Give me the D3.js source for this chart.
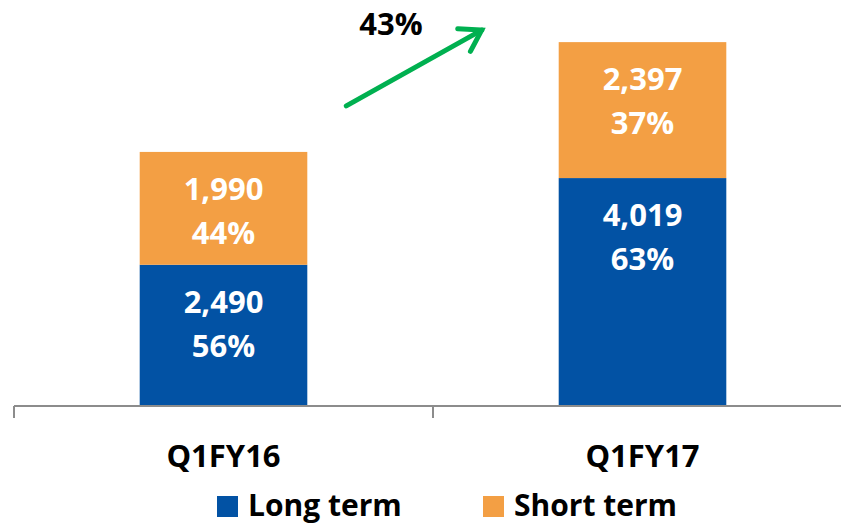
<!DOCTYPE html>
<html>
<head>
<meta charset="utf-8">
<script src="https://cdn.jsdelivr.net/npm/d3@7"></script>
<style>
  html, body { margin: 0; padding: 0; background: #ffffff; }
  svg { display: block; font-family: "Open Sans", "Liberation Sans", sans-serif; font-weight: 700; }
</style>
</head>
<body>
<svg id="chart" width="841" height="525"></svg>
<script>
// ---- data ----
const categories = ["Q1FY16", "Q1FY17"];
const seriesNames = ["Long term", "Short term"];
const longTerm = [2490, 4019];
const shortTerm = [1990, 2397];

// ---- styles ----
const colors = { "Long term": "#0252a4", "Short term": "#f39f44" };
const axisColor = "#8c8c8c";
const arrowColor = "#00b050";

const svg = d3.select("#chart");
const W = 841, H = 525;

const x = d3.scaleBand()
  .domain(categories)
  .range([14, 852])
  .paddingInner(0.6)
  .paddingOuter(0.3);

const y = d3.scaleLinear()
  .domain([0, 7000])
  .range([406, 9]);

// build stacked table
const table = categories.map((c, i) => ({ cat: c, "Long term": longTerm[i], "Short term": shortTerm[i] }));
const stack = d3.stack().keys(seriesNames)(table);
const totals = categories.map((c, i) => longTerm[i] + shortTerm[i]);

// bars
const layers = svg.append("g").selectAll("g")
  .data(stack)
  .join("g")
  .attr("fill", d => colors[d.key]);

layers.selectAll("rect")
  .data(d => d.map(s => ({ s, key: d.key })))
  .join("rect")
  .attr("x", d => x(d.s.data.cat))
  .attr("width", x.bandwidth())
  .attr("y", d => y(d.s[1]))
  .attr("height", d => y(d.s[0]) - y(d.s[1]));

// value labels
const fmt = d3.format(",");
stack.forEach(layer => {
  layer.forEach((s, i) => {
    const v = s[1] - s[0];
    const cx = x(s.data.cat) + x.bandwidth() / 2;
    const top = y(s[1]);
    const pct = Math.round(v / totals[i] * 100) + "%";
    const t = svg.append("text")
      .attr("text-anchor", "middle")
      .attr("fill", "#ffffff")
      .attr("font-size", 31);
    t.append("tspan").attr("x", cx).attr("y", top + 48).text(fmt(v));
    t.append("tspan").attr("x", cx).attr("y", top + 92).text(pct);
  });
});

// axis
const axisG = svg.append("g");
axisG.append("line")
  .attr("x1", x.range()[0]).attr("x2", W + 20)
  .attr("y1", y(0)).attr("y2", y(0))
  .attr("stroke", axisColor).attr("stroke-width", 2);
const step = x.step();
const boundaries = [x.range()[0]].concat(categories.map((c, i) => x.range()[0] + step * (i + 1)));
axisG.selectAll("line.tick")
  .data(boundaries)
  .join("line")
  .attr("class", "tick")
  .attr("x1", d => d).attr("x2", d => d)
  .attr("y1", y(0)).attr("y2", y(0) + 12)
  .attr("stroke", axisColor).attr("stroke-width", 2);

// category labels
svg.append("g").selectAll("text")
  .data(categories)
  .join("text")
  .attr("x", d => x(d) + x.bandwidth() / 2)
  .attr("y", y(0) + 61)
  .attr("text-anchor", "middle")
  .attr("fill", "#000000")
  .attr("font-size", 31)
  .text(d => d);

// growth arrow annotation
const growth = Math.round((totals[1] / totals[0] - 1) * 100) + "%";
const x0 = x(categories[0]) + x.bandwidth() + 39;
const y0 = y(totals[0]) - 46;
const x1 = x(categories[1]) - 77;
const y1 = y(totals[1]) - 12;
const ang = Math.atan2(y1 - y0, x1 - x0);
const headLen = 24, headAng = Math.PI / 5.5;
const arrow = svg.append("g")
  .attr("stroke", arrowColor)
  .attr("stroke-width", 5)
  .attr("stroke-linecap", "round")
  .attr("fill", "none");
arrow.append("line").attr("x1", x0).attr("y1", y0).attr("x2", x1).attr("y2", y1);
arrow.append("polyline")
  .attr("stroke-linejoin", "miter")
  .attr("points", [
    [x1 - headLen * Math.cos(ang - headAng), y1 - headLen * Math.sin(ang - headAng)],
    [x1, y1],
    [x1 - headLen * Math.cos(ang + headAng), y1 - headLen * Math.sin(ang + headAng)]
  ].map(p => p.join(",")).join(" "));

svg.append("text")
  .attr("x", (x0 + x1) / 2 - 23)
  .attr("y", y1 + 5)
  .attr("text-anchor", "middle")
  .attr("fill", "#000000")
  .attr("font-size", 31)
  .text(growth);

// legend
const legendItems = [
  { name: "Long term", x: 217 },
  { name: "Short term", x: 483 }
];
const lg = svg.append("g").selectAll("g")
  .data(legendItems)
  .join("g")
  .attr("transform", d => `translate(${d.x},496)`);
lg.append("rect")
  .attr("width", 21).attr("height", 21)
  .attr("fill", d => colors[d.name]);
lg.append("text")
  .attr("x", 31).attr("y", 20)
  .attr("fill", "#000000")
  .attr("font-size", 30)
  .text(d => d.name);
</script>
</body>
</html>
